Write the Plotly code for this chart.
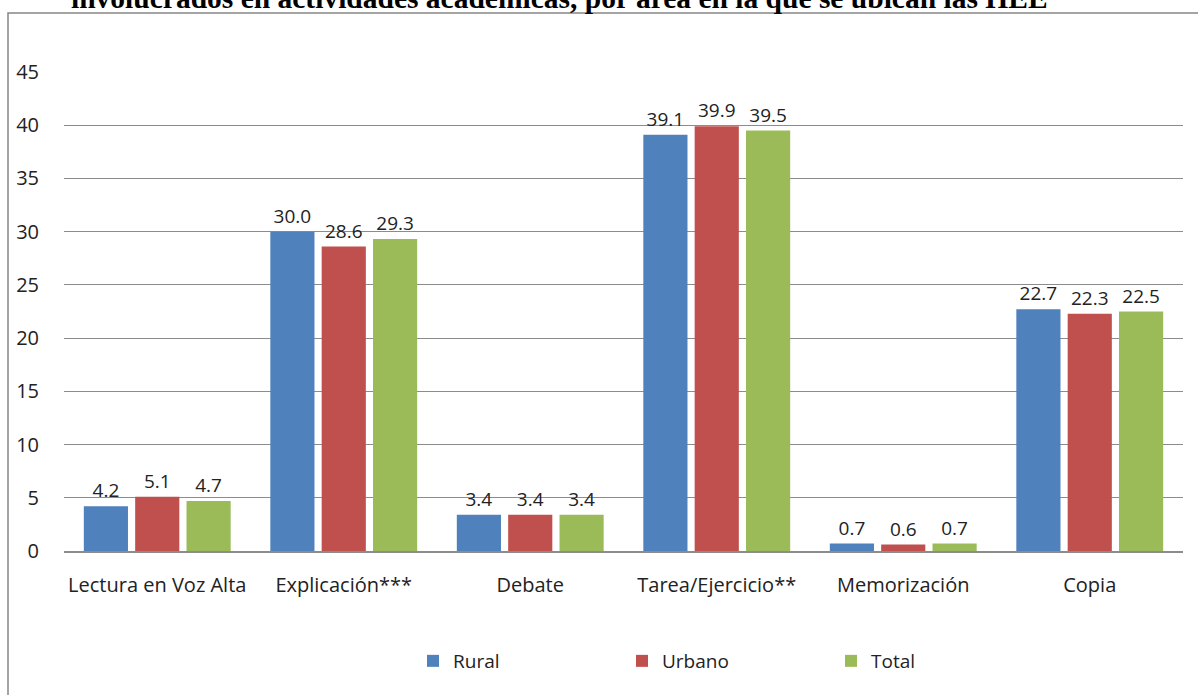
import plotly.graph_objects as go

# Actividades académicas (porcentaje del tiempo), por área de ubicación de las HEE
categorias = ["Lectura en Voz Alta", "Explicación***", "Debate",
              "Tarea/Ejercicio**", "Memorización", "Copia"]
rural = [4.2, 30.0, 3.4, 39.1, 0.7, 22.7]
urbano = [5.1, 28.6, 3.4, 39.9, 0.6, 22.3]
total = [4.7, 29.3, 3.4, 39.5, 0.7, 22.5]

series = [("Rural", rural, "#4F81BD"),
          ("Urbano", urbano, "#C0504D"),
          ("Total", total, "#9BBB59")]

titulo = "involucrados en actividades académicas, por área en la que se ubican las HEE"

FONT = "'Open Sans', sans-serif"
TXT = "#222222"

fig = go.Figure()
for nombre, valores, color in series:
    fig.add_trace(go.Bar(
        name=nombre, x=categorias, y=valores,
        marker=dict(color=color, line=dict(width=0)),
        text=[f"{v:.1f}" for v in valores],
        textposition="outside", cliponaxis=False,
        textfont=dict(family=FONT, size=19, color=TXT),
    ))

W, H = 1198, 695
L, R, T, B = 64, 15, 72, 144
ph = H - T - B
pw = W - L - R

fig.update_layout(
    width=W, height=H,
    margin=dict(l=L, r=R, t=T, b=B),
    paper_bgcolor="white", plot_bgcolor="white",
    barmode="group", bargap=0.174, bargroupgap=0.14,
    font=dict(family=FONT, size=19, color=TXT),
    showlegend=True,
    legend=dict(orientation="h", x=(413 - L) / pw, xanchor="left",
                y=(T + ph - 661) / ph, yanchor="middle",
                entrywidth=164, entrywidthmode="pixels",
                font=dict(family=FONT, size=19, color=TXT),
                bgcolor="rgba(0,0,0,0)"),
    xaxis=dict(showgrid=False, showline=True, linecolor="#8C8C8C", linewidth=1.5,
               ticks="outside", ticklen=15, tickcolor="rgba(0,0,0,0)",
               tickfont=dict(family=FONT, size=20, color=TXT)),
    yaxis=dict(range=[0, 45], dtick=5, showgrid=True, gridcolor="#8C8C8C",
               gridwidth=1, zeroline=False, showline=False,
               ticks="outside", ticklen=20, tickcolor="rgba(0,0,0,0)",
               tickfont=dict(family=FONT, size=20, color=TXT)),
    shapes=[dict(type="rect", xref="paper", yref="paper",
                 x0=(8 - L) / pw, x1=1.2, y0=-0.6, y1=1 + (T - 13) / ph,
                 line=dict(color="#868686", width=1.5), fillcolor="rgba(0,0,0,0)",
                 layer="below")],
    annotations=[dict(text=f"<b>{titulo}</b>", xref="paper", yref="paper",
                      x=(559 - L) / pw, xanchor="center",
                      y=1 + (T - 16) / ph, yanchor="bottom", showarrow=False,
                      font=dict(family="'Liberation Serif', 'Times New Roman', serif",
                                size=29.5, color="black"))],
)

fig.write_html("out.html")
